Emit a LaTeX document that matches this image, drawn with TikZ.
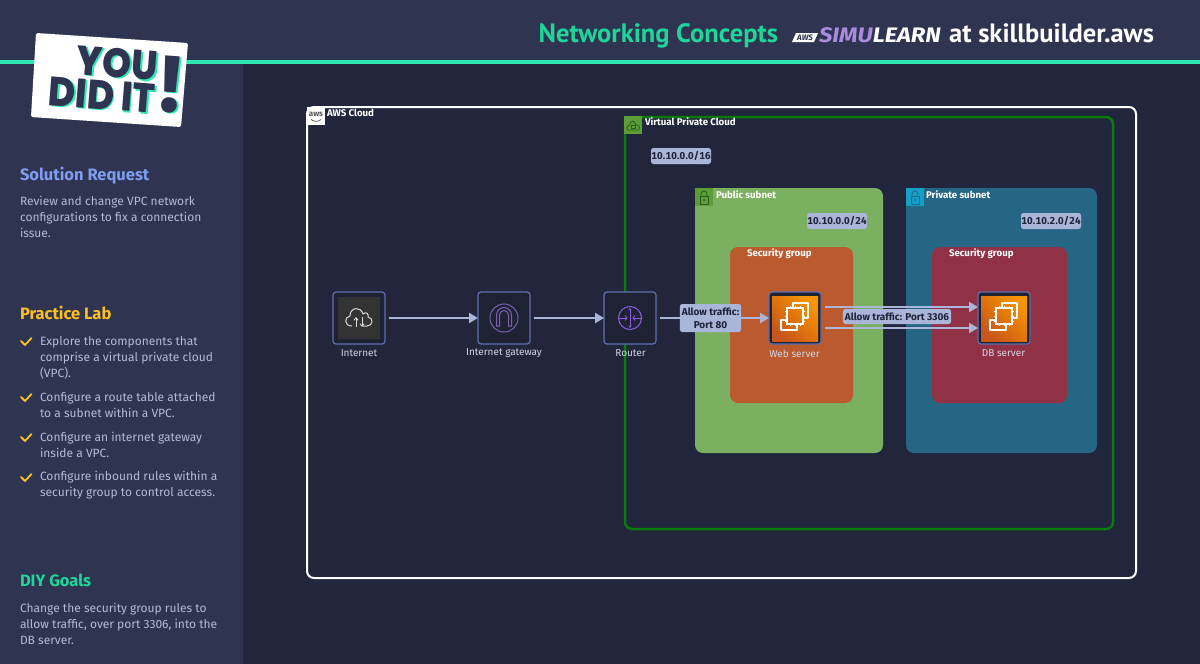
\documentclass[tikz,border=0pt]{standalone}
\usepackage{fontspec}
\setmainfont{Fira Sans}
\newfontfamily\titlef{PT Sans}
\newfontfamily\stickf{Poppins}[UprightFont=* ExtraBold,BoldFont=* ExtraBold,FakeStretch=0.9]
\newfontfamily\simuf{Fira Sans}[FakeStretch=1.13]
\newfontfamily\cidrf{Fira Sans}[Numbers=Monospaced,LetterSpace=2]
\usetikzlibrary{arrows.meta,calc}
\definecolor{bgbody}{HTML}{22263C}
\definecolor{bgside}{HTML}{2F3450}
\definecolor{mint}{HTML}{2DE8B0}
\definecolor{titlegreen}{HTML}{1ED69A}
\definecolor{sidetext}{HTML}{B4BBD4}
\definecolor{periw}{HTML}{7F9CF0}
\definecolor{amberc}{HTML}{FBBF24}
\definecolor{tagc}{HTML}{A9B6DA}
\definecolor{tagtext}{HTML}{1F2338}
\definecolor{tileb}{HTML}{5F6FB0}
\definecolor{tilef}{HTML}{1E2233}
\definecolor{vpcg}{HTML}{0A7A0A}
\definecolor{pubg}{HTML}{7AB060}
\definecolor{pubt}{HTML}{5B9E38}
\definecolor{prib}{HTML}{266685}
\definecolor{prit}{HTML}{15A0C8}
\definecolor{sgo}{HTML}{BB5A2E}
\definecolor{sgr}{HTML}{903145}
\definecolor{purp}{HTML}{7A5FB0}
\definecolor{purq}{HTML}{8F5FE8}
\definecolor{simu}{HTML}{A98BE0}
\definecolor{iconline}{HTML}{2F5A20}
\definecolor{ectop}{HTML}{F79400}
\definecolor{ecbot}{HTML}{C8561A}
\definecolor{inetbox}{HTML}{333333}
\tikzset{
  x=1pt,y=-1pt,
  every node/.style={inner sep=0pt,outer sep=0pt},
  tile/.style={draw=tileb,line width=1.2pt,fill=tilef,rounded corners=3pt,minimum width=52pt,minimum height=52pt},
  flow/.style={draw=tagc,line width=2pt,-{Triangle[length=9pt,width=10pt]}},
  tag/.style={fill=tagc,text=tagtext,rounded corners=2.5pt,font=\fontsize{10}{13}\selectfont\bfseries,align=center,inner xsep=2pt,inner ysep=1.5pt},
  cidrtag/.style={fill=tagc,text=tagtext,rounded corners=2.5pt,font=\fontsize{10}{13}\selectfont\cidrf\bfseries,minimum width=60pt,minimum height=16pt},
  clabel/.style={text=white,font=\fontsize{9.7}{11}\selectfont\bfseries,anchor=west},
  ilabel/.style={text=sidetext!60!white,font=\fontsize{10}{11}\selectfont},
  sidehead/.style={anchor=base west,font=\fontsize{16.5}{18}\selectfont\bfseries},
  sidebody/.style={anchor=north west,text=sidetext,align=left,font=\fontsize{12}{16}\selectfont},
  check/.style={draw=amberc,line width=1.8pt,line cap=round,line join=round},
  corner/.style={minimum width=18pt,minimum height=18pt,anchor=north west},
}
\begin{document}
\begin{tikzpicture}
\useasboundingbox (0,0) rectangle (1200,664);
% backgrounds
\fill[bgbody] (0,0) rectangle (1200,664);
\fill[bgside] (0,0) rectangle (243,664);
\fill[bgside] (0,0) rectangle (1200,60);
\fill[mint] (0,60) rectangle (1200,64);
% header
\node[anchor=base east,text=titlegreen,font=\fontsize{26.5}{28}\selectfont\titlef\bfseries] (htitle) at (778,42) {Networking Concepts};
\node[anchor=base east,text=white,font=\fontsize{26.5}{28}\selectfont\titlef\bfseries] (hat) at (1154,42) {at skillbuilder.aws};
\fill[white] (792,42) -- (814,42) -- (818,33) -- (796,33) -- cycle;
\node[text=bgside,font=\fontsize{8}{8}\selectfont\bfseries\itshape] (hawsl) at (805,37.5) {AWS};
\node[anchor=base west,font=\fontsize{21}{24}\selectfont\simuf\bfseries\itshape] (hsimu) at (819,42) {\textcolor{simu}{SIMU}\textcolor{white}{LEARN}};
% sticker
\fill[white,rounded corners=1.5pt] (36,33) -- (188,43) -- (181,127) -- (31,117) -- cycle;
\begin{scope}[font=\fontsize{41}{41}\selectfont\stickf]
\node[text=mint,rotate=-4.5] (you2) at (119,64.5) {YOU};
\node[text=bgside,rotate=-4.5] (you) at (117.5,63) {YOU};
\node[text=mint,rotate=-4.5] (did2) at (103.5,96.5) {DID IT};
\node[text=bgside,rotate=-4.5] (did) at (102,95) {DID IT};
\end{scope}
\node[text=mint,rotate=-4,font=\fontsize{76}{76}\selectfont\stickf] (ex2) at (172.5,86) {!};
\node[text=bgside,rotate=-4,font=\fontsize{76}{76}\selectfont\stickf] (ex) at (171,85) {!};
% sidebar
\node[sidehead,text=periw] (h1) at (20,180) {Solution Request};
\node[sidebody] (b1) at (20,196.5) {Review and change VPC network\\configurations to fix a connection\\issue.};
\node[sidehead,text=amberc] (h2) at (20,319) {Practice Lab};
\node[sidebody] (c1) at (40,336.5) {Explore the components that\\comprise a virtual private cloud\\(VPC).};
\node[sidebody] (c2) at (40,392.5) {Configure a route table attached\\to a subnet within a VPC.};
\node[sidebody] (c3) at (40,432) {Configure an internet gateway\\inside a VPC.};
\node[sidebody] (c4) at (40,471.5) {Configure inbound rules within a\\security group to control access.};
\foreach \yy in {341,397,437,477}{
  \draw[check] (21,\yy) -- (25,\yy+4) -- (31.5,\yy-3);
}
\node[sidehead,text=titlegreen] (h3) at (20,586) {DIY Goals};
\node[sidebody] (b3) at (20,603) {Change the security group rules to\\allow traffic, over port 3306, into the\\DB server.};
% containers
\draw[white,line width=2pt,rounded corners=7pt] (307,107) rectangle (1136,578);
\node[fill=white,corner] (awst) at (307,107) {};
\node[text=black!65,font=\fontsize{8}{8}\selectfont\bfseries] (awstx) at (316,114) {aws};
\draw[black!65,line width=0.7pt] (311,119.5) .. controls (315,122) and (318,122) .. (321,119.5);
\node[clabel] (awsl) at (327,112.5) {AWS Cloud};
\draw[vpcg,line width=2.5pt,rounded corners=7pt] (625,117) rectangle (1113,529);
\node[fill=pubt,corner] (vpct) at (624,116) {};
\draw[iconline,line width=0.8pt] (627.5,130) -- (638.5,130) .. controls (641,127) and (638,124) .. (636,125) .. controls (635,120) and (630,120) .. (629.5,125) .. controls (627,126) and (625.5,128) .. (627.5,130);
\draw[iconline,line width=0.7pt] (631,125.5) rectangle (635,128.5);
\node[clabel] (vpcl) at (645,121.5) {Virtual Private Cloud};
\node[cidrtag] (vpccidr) at (681,156) {10.10.0.0/16};
\fill[pubg,rounded corners=8pt] (695,188) rectangle (883,453);
\node[fill=pubt,corner] (pubtile) at (695,188) {};
\draw[iconline,line width=0.8pt] (700,196) rectangle (708,204);
\draw[iconline,line width=0.8pt] (701,196) -- (701,194) arc[start angle=180,end angle=360,radius=3] -- (707,196);
\fill[iconline] (704,200) circle[radius=1];
\node[clabel] (publ) at (716,194.5) {Public subnet};
\node[cidrtag] (pubcidr) at (837,221) {10.10.0.0/24};
\fill[prib,rounded corners=8pt] (906,188) rectangle (1097,453);
\node[fill=prit,corner] (pritile) at (906,188) {};
\draw[prib,line width=0.8pt] (911,196) rectangle (919,204);
\draw[prib,line width=0.8pt] (912,196) -- (912,194) arc[start angle=180,end angle=360,radius=3] -- (918,196);
\fill[prib] (915,200) circle[radius=1];
\node[clabel] (pril) at (926,194.5) {Private subnet};
\node[cidrtag] (pricidr) at (1051,221) {10.10.2.0/24};
\fill[sgo,rounded corners=8pt] (730,247) rectangle (853,403);
\node[clabel] (sgl1) at (747,254) {Security group};
\fill[sgr,rounded corners=8pt] (932,247) rectangle (1067,403);
\node[clabel] (sgl2) at (949,254) {Security group};
% tiles
\node[tile] (inet) at (359,318) {};
\node[tile] (igw) at (504,318) {};
\node[tile] (router) at (630,318) {};
\node[tile] (web) at (795,318) {};
\node[tile] (db) at (1004,318) {};
\fill[inetbox] (338,297) rectangle (380,339);
\foreach \tl in {web,db}{
  \begin{scope}[shift={(\tl.center)}]
    \shade[top color=ectop,bottom color=ecbot,shading angle=-45] (-23,-22) rectangle (23,23);
    \draw[white,line width=1.2pt,line join=round] (-2,-10) -- (-2,-15) -- (13,-15) -- (13,0) -- (8,0);
    \draw[white,line width=1.2pt,line join=round] (-8,2) -- (-14,2) -- (-14,12) -- (2,12) -- (2,6);
    \draw[white,line width=1.2pt] (-8,-10) rectangle (8,6);
    \foreach \p in {-5,0,5}{
      \draw[white,line width=0.6pt] (\p,-12) -- (\p,-10) (\p,6) -- (\p,8);
      \draw[white,line width=0.6pt] (-10,\p-2) -- (-8,\p-2) (8,\p-2) -- (10,\p-2);
    }
  \end{scope}
}
% internet icon
\begin{scope}[shift={(inet.center)}]
  \draw[white!85!black,line width=1pt] (-7,8) .. controls (-15,8) and (-15,-1) .. (-9,-2) .. controls (-9,-11) and (2,-12) .. (4,-4) .. controls (7,-7) and (10,-4) .. (9,-1) .. controls (15,0) and (14,8) .. (8,8) -- (4,8);
  \draw[white!85!black,line width=0.9pt,-{Straight Barb[length=2.5pt,width=4pt]}] (-3,9) -- (-3,-1);
  \draw[white!85!black,line width=0.9pt,-{Straight Barb[length=2.5pt,width=4pt]}] (3,-1) -- (3,9);
\end{scope}
% gateway icon
\begin{scope}[shift={(igw.center)}]
  \draw[purp,line width=1pt] (0,0) circle[radius=14];
  \draw[purp,line width=1pt] (-7.5,8) -- (-7.5,-3) arc[start angle=180,end angle=360,radius=7.5] -- (7.5,8) -- (4.5,8) -- (4.5,-3) arc[start angle=0,end angle=-180,radius=4.5] -- (-4.5,8) -- cycle;
\end{scope}
% router icon
\begin{scope}[shift={(router.center)}]
  \draw[purq,line width=1pt] (0,0) circle[radius=11.5];
  \draw[purq,line width=0.8pt,{Stealth[length=2.5pt,width=3pt]}-{Stealth[length=2.5pt,width=3pt]}] (0,-10) -- (0,10);
  \draw[purq,line width=0.8pt] (-11,0) -- (-3,0) (3,0) -- (11,0);
  \draw[purq,line width=0.8pt] (-5,-2.5) -- (-3,0) -- (-5,2.5) (5,-2.5) -- (3,0) -- (5,2.5);
\end{scope}
% connectors
\path[flow,shorten <=4pt] (inet.east) -- (igw.west);
\path[flow,shorten <=4pt] (igw.east) -- (router.west);
\path[flow,shorten <=4pt] (router.east) -- (web.west);
\path[flow,shorten <=4pt] ([yshift=11pt]web.east) -- ([yshift=11pt]db.west);
\path[flow,shorten <=4pt] ([yshift=-10pt]web.east) -- ([yshift=-10pt]db.west);
% labels
\node[tag,minimum width=61pt,minimum height=28pt] (l80) at (710.5,318) {Allow traffic:\\Port 80};
\node[tag,minimum width=108pt,minimum height=15pt] (l3306) at (897,316.5) {Allow traffic: Port 3306};
\node[ilabel] (il1) at (359,353.5) {Internet};
\node[ilabel] (il2) at (504,353.5) {Internet gateway};
\node[ilabel] (il3) at (630.5,353.5) {Router};
\node[ilabel] (il4) at (794.5,353.5) {Web server};
\node[ilabel] (il5) at (1003.5,353.5) {DB server};
\end{tikzpicture}
\end{document}
